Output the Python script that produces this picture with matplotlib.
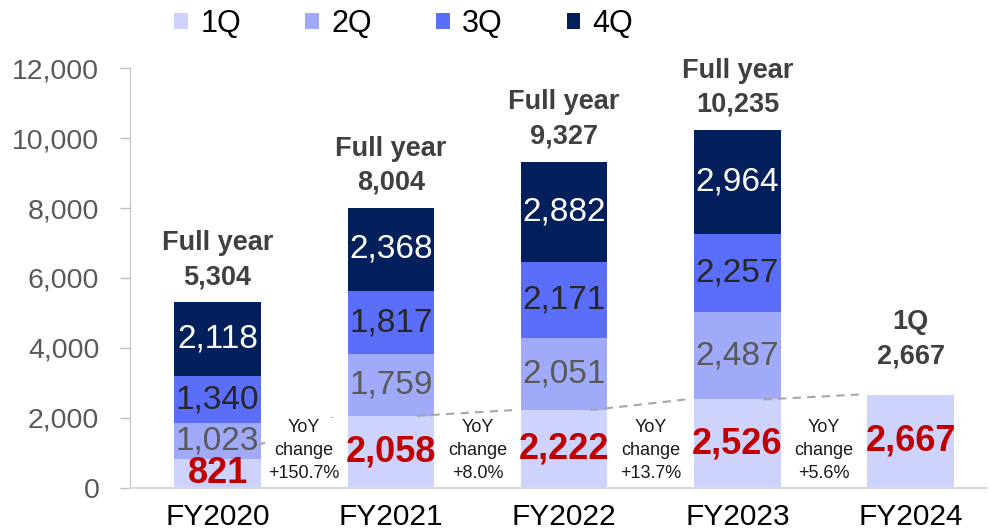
import matplotlib
matplotlib.use('Agg')
import matplotlib.pyplot as plt
import numpy as np

plt.rcParams['font.family'] = ['Liberation Sans', 'DejaVu Sans']

years = ['FY2020', 'FY2021', 'FY2022', 'FY2023', 'FY2024']
q1 = [821, 2058, 2222, 2526, 2667]
q2 = [1023, 1759, 2051, 2487, 0]
q3 = [1340, 1817, 2171, 2257, 0]
q4 = [2118, 2368, 2882, 2964, 0]
totals = [5304, 8004, 9327, 10235, 2667]
top_titles = ['Full year', 'Full year', 'Full year', 'Full year', '1Q']
yoy = ['+150.7%', '+8.0%', '+13.7%', '+5.6%']

COLORS = ['#cdd3fc', '#a0aaf8', '#5a6efa', '#03205c']
LABEL_COLORS = [None, '#595959', '#262626', 'white']
QNAMES = ['1Q', '2Q', '3Q', '4Q']

fig = plt.figure(figsize=(9.91, 5.32), dpi=100)
ax = fig.add_axes([0.131, 0.083, 0.865, 0.789])

x = np.arange(len(years))
W = 0.5
series = [q1, q2, q3, q4]
bottom = np.zeros(len(years))
handles = []
for i, vals in enumerate(series):
    vals = np.array(vals, dtype=float)
    b = ax.bar(x, vals, W, bottom=bottom, color=COLORS[i], edgecolor='none', zorder=2, label=QNAMES[i])
    handles.append(b)
    for xi, v, bt in zip(x, vals, bottom):
        if v <= 0:
            continue
        if i == 0:
            ax.text(xi, bt + v / 2, f'{int(v):,}', ha='center', va='center', fontsize=26,
                    fontweight='bold', color='#c00000', zorder=5)
        else:
            ax.text(xi, bt + v / 2, f'{int(v):,}', ha='center', va='center', fontsize=24,
                    color=LABEL_COLORS[i], zorder=5)
    bottom += vals

# totals above bars (the lone 1Q bar sits a bit higher above its label)
for xi, t, title in zip(x, totals, top_titles):
    gap = 350 if title == 'Full year' else 720
    ax.text(xi, t + gap, f'{title}\n{t:,}', ha='center', va='bottom', fontsize=19.5,
            fontweight='bold', color='#404040', linespacing=1.4, zorder=5)

# YoY dashed connectors + text
for i in range(len(years) - 1):
    ax.plot([i + 0.15, i + 1 - 0.3], [q1[i] + 250 if i == 0 else q1[i], q1[i + 1]],
            ls=(0, (4, 3)), color='#a6a6a6', lw=1.5, zorder=4)
    ax.text(i + 0.5, 1060, f'YoY\nchange\n{yoy[i]}', ha='center', va='center', fontsize=13,
            color='#1a1a1a', linespacing=1.45, zorder=6,
            bbox=dict(facecolor='white', edgecolor='none', pad=1))

ax.set_xlim(-0.506, 4.44)
ax.set_ylim(0, 12000)
ax.set_yticks(range(0, 12001, 2000))
ax.set_yticklabels([f'{v:,}' for v in range(0, 12001, 2000)])
ax.set_xticks(x)
ax.set_xticklabels(years)
ax.tick_params(axis='y', labelsize=20.5, colors='#bfbfbf', labelcolor='#595959', length=7, width=1, pad=15)
ax.tick_params(axis='x', labelsize=21.5, labelcolor='#000000', length=0, pad=11)
for s in ['top', 'right']:
    ax.spines[s].set_visible(False)
ax.spines['left'].set_color('#bfbfbf')
ax.spines['bottom'].set_color('#d9d9d9')
ax.spines['bottom'].set_linewidth(1.5)

fig.legend(handles=handles, labels=QNAMES, loc='upper left', bbox_to_anchor=(0.148, 1.035),
           ncol=4, frameon=False, fontsize=22, handlelength=0.45, handleheight=0.45,
           columnspacing=2.1, handletextpad=0.4)

fig.savefig('out.png', dpi=100)
